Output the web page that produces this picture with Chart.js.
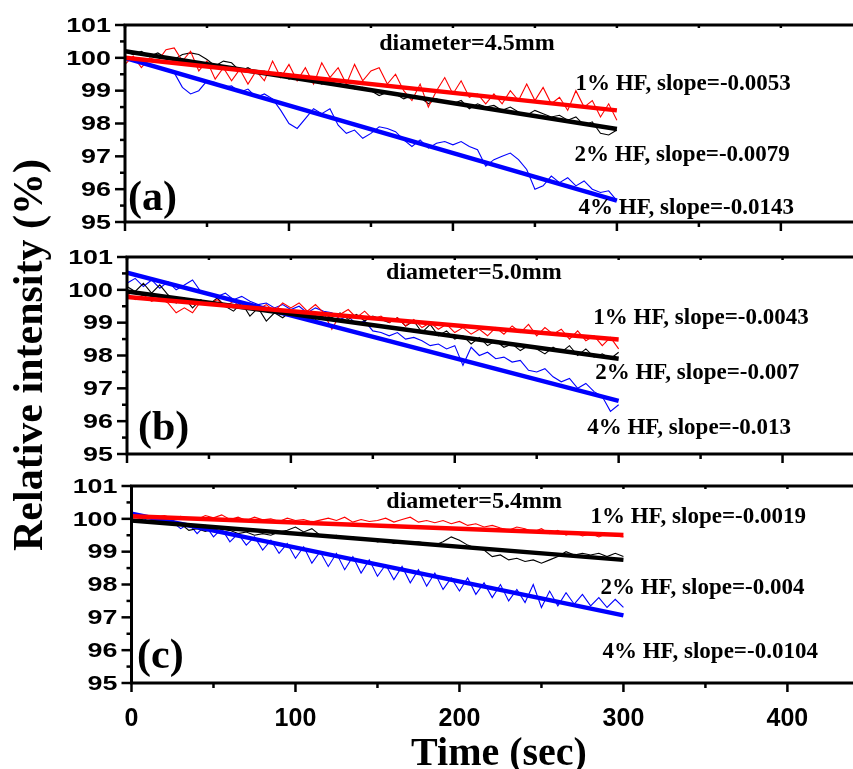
<!DOCTYPE html>
<html>
<head>
<meta charset="utf-8">
<script src="https://cdn.jsdelivr.net/npm/chart.js@4.4.1/dist/chart.umd.min.js"></script>
<style>
  html, body { margin: 0; padding: 0; background: #fff; }
  #wrap { position: relative; width: 853px; height: 769px; overflow: hidden; background: #fff; }
  canvas { position: absolute; left: 0; top: 0; }
</style>
</head>
<body>
<div id="wrap">
  <canvas id="panelA" width="853" height="769"></canvas>
  <canvas id="panelB" width="853" height="769"></canvas>
  <canvas id="panelC" width="853" height="769"></canvas>
</div>
<script>
// time axis (sec) shared by all measured curves
const timeSec = [0,5,10,15,20,25,30,35,40,45,50,55,60,65,70,75,80,85,90,95,
  100,105,110,115,120,125,130,135,140,145,150,155,160,165,170,175,180,185,190,195,
  200,205,210,215,220,225,230,235,240,245,250,255,260,265,270,275,280,285,290,295,300];
const fitTime = [0, 300];

// (a) diameter=4.5mm
const aRed = [99.8,100.05,99.7,100.0,99.9,100.25,100.3,99.9,100.2,99.6,
  99.9,99.35,99.7,99.3,99.65,99.2,99.6,99.3,99.9,99.4,
  99.8,99.3,99.7,99.2,99.85,99.4,99.7,99.2,99.8,99.3,
  99.6,99.7,99.2,99.5,99.0,98.7,99.2,98.5,99.0,99.4,
  98.9,99.3,98.8,98.9,98.6,98.9,98.6,99.0,98.7,99.2,
  98.7,99.1,98.6,98.8,98.4,99.0,98.5,98.7,98.2,98.6,
  98.1];
const aBlack = [100.2,100.1,100.2,100.05,100.15,100.0,99.95,100.1,100.15,100.1,
  99.95,99.75,99.9,99.85,99.6,99.7,99.55,99.6,99.5,99.55,
  99.35,99.45,99.3,99.35,99.2,99.3,99.15,99.2,99.05,99.1,
  99.0,98.85,98.95,98.9,98.75,98.85,98.8,98.6,98.75,98.65,
  98.6,98.7,98.45,98.6,98.5,98.55,98.4,98.5,98.35,98.25,
  98.4,98.3,98.2,98.25,98.1,98.2,97.95,98.05,97.7,97.65,
  97.8];
const aBlue = [100.0,99.95,99.85,99.8,99.7,99.6,99.55,99.1,98.9,99.0,
  99.3,99.25,99.1,99.15,98.95,99.05,98.8,98.9,98.75,98.4,
  98.0,97.85,98.15,98.45,98.3,98.45,97.95,97.7,97.8,97.55,
  97.7,97.9,97.85,97.75,97.5,97.3,97.5,97.25,97.4,97.45,
  97.35,97.45,97.3,97.2,96.7,96.9,97.0,97.1,96.9,96.6,
  96.0,96.1,96.4,96.2,96.35,96.1,96.25,96.0,95.9,95.95,
  95.65];
const aFitRed = [100.0, 98.4];
const aFitBlack = [100.2, 97.83];
const aFitBlue = [100.0, 95.65];

// (b) diameter=5.0mm
const bRed = [99.9,99.7,99.85,99.65,99.75,99.6,99.3,99.45,99.3,99.65,
  99.55,99.7,99.5,99.65,99.45,99.6,99.4,99.55,99.35,99.6,
  99.45,99.6,99.35,99.55,99.3,98.8,99.25,99.4,99.15,99.35,
  99.1,99.2,99.0,99.15,98.9,99.1,98.85,99.0,98.8,98.95,
  98.7,98.85,98.65,98.8,98.6,98.85,98.65,98.9,98.7,98.95,
  98.6,98.85,98.65,98.8,98.5,98.75,98.45,98.6,98.3,98.55,
  98.2];
const bBlack = [100.1,99.95,100.2,99.9,100.15,99.85,99.6,99.75,99.45,99.7,
  99.55,99.75,99.5,99.35,99.6,99.2,99.45,99.05,99.3,99.15,
  99.35,99.2,99.3,99.1,99.25,99.15,99.3,99.1,99.25,99.05,
  99.2,99.1,99.0,99.15,98.9,99.05,98.7,98.95,98.6,98.75,
  98.5,98.6,98.35,98.55,98.3,98.45,98.25,98.35,98.15,98.3,
  98.2,98.05,98.25,98.1,98.3,98.0,98.2,97.95,98.05,97.9,
  98.1];
const bBlue = [100.2,100.35,100.1,100.3,100.05,100.25,100.0,100.15,100.3,99.95,
  99.9,99.8,99.9,99.7,99.8,99.65,99.55,99.6,99.45,99.55,
  99.4,99.5,99.3,99.45,99.35,99.3,99.1,99.2,98.95,99.05,
  98.75,98.7,98.6,98.7,98.5,98.55,98.45,98.3,98.35,98.2,
  98.3,97.7,98.25,98.0,98.1,97.9,97.95,97.8,97.85,97.55,
  97.5,97.6,97.35,97.2,97.3,97.0,97.15,96.9,96.75,96.3,
  96.5];
const bFitRed = [99.78, 98.49];
const bFitBlack = [99.95, 97.9];
const bFitBlue = [100.52, 96.62];

// (c) diameter=5.4mm
const cRed = [100.05,100.1,100.0,100.05,100.1,100.02,100.08,100.0,99.98,100.1,
  100.03,100.12,99.98,100.05,99.95,100.05,99.97,100.0,99.92,100.02,
  99.95,99.98,99.9,99.96,100.02,99.95,100.05,99.9,99.98,99.92,
  99.95,100.02,99.9,99.98,100.05,99.9,99.95,99.88,99.95,99.85,
  99.92,99.8,99.85,99.75,99.8,99.72,99.65,99.75,99.7,99.6,
  99.7,99.55,99.65,99.5,99.6,99.48,99.55,99.45,99.55,99.48,
  99.45];
const cBlack = [99.95,100.0,99.9,99.95,99.9,99.95,99.85,99.65,99.7,99.62,
  99.7,99.6,99.65,99.55,99.6,99.5,99.55,99.5,99.6,99.65,
  99.75,99.6,99.7,99.5,99.45,99.5,99.4,99.45,99.35,99.4,
  99.3,99.35,99.25,99.3,99.28,99.3,99.25,99.2,99.3,99.45,
  99.35,99.2,99.1,99.05,98.85,98.9,98.75,98.8,98.7,98.75,
  98.65,98.75,98.85,99.0,98.9,98.95,98.9,98.95,98.85,98.95,
  98.85];
const cBlue = [100.1,100.05,99.95,100.0,99.85,99.9,99.7,99.85,99.55,99.8,
  99.45,99.7,99.3,99.55,99.2,99.45,99.05,99.35,98.95,99.25,
  98.8,99.15,98.65,99.0,98.55,98.95,98.45,98.85,98.35,98.75,
  98.25,98.6,98.15,98.55,98.05,98.45,97.95,98.35,97.85,98.2,
  97.8,98.2,97.7,98.05,97.6,98.0,97.5,97.85,97.45,98.0,
  97.3,97.8,97.35,97.75,97.4,97.7,97.35,97.6,97.3,97.55,
  97.3];
const cFitRed = [100.08, 99.51];
const cFitBlack = [99.95, 98.75];
const cFitBlue = [100.16, 97.06];

const yTicks = [95, 96, 97, 98, 99, 100, 101];
const xTickLabels = [0, 100, 200, 300, 400];

const SERIF = '"Liberation Serif", "Times New Roman", serif';
const SANS = '"Liberation Sans", Arial, sans-serif';
const RED = '#ff0000', BLACK = '#000000', BLUE = '#0000ff';

function pts(xs, ys) {
  return ys.map((v, i) => ({ x: xs[i], y: v }));
}

const framePlugin = {
  id: 'frame',
  afterDraw(chart, args, opts) {
    const { ctx, chartArea: a } = chart;
    const xs = chart.scales.x, ys = chart.scales.y;
    ctx.save();
    ctx.strokeStyle = '#000';
    ctx.lineWidth = 3;
    ctx.beginPath();
    ctx.moveTo(a.right + 10, a.top);
    ctx.lineTo(a.left, a.top);
    ctx.lineTo(a.left, a.bottom);
    ctx.lineTo(a.right + 10, a.bottom);
    ctx.stroke();

    // y ticks (major + minor), outward
    ctx.lineWidth = 2.5;
    for (let v = ys.min; v <= ys.max + 1e-9; v += 0.5) {
      const py = ys.getPixelForValue(v);
      const len = Math.abs(v - Math.round(v)) < 1e-6 ? 10 : 5;
      ctx.beginPath();
      ctx.moveTo(a.left - len, py);
      ctx.lineTo(a.left, py);
      ctx.stroke();
    }
    // x ticks (major + minor), outward at bottom, small inward at top
    for (let v = 0; v <= xs.max; v += 50) {
      const px = xs.getPixelForValue(v);
      const len = v % 100 === 0 ? 9 : 5;
      ctx.beginPath();
      ctx.moveTo(px, a.bottom);
      ctx.lineTo(px, a.bottom + len);
      ctx.stroke();
      ctx.beginPath();
      ctx.moveTo(px, a.top);
      ctx.lineTo(px, a.top + 3);
      ctx.stroke();
    }

    // y tick labels (wide bold sans like the original)
    ctx.fillStyle = '#000';
    ctx.font = 'bold 21px ' + SANS;
    ctx.textAlign = 'right';
    ctx.textBaseline = 'middle';
    yTicks.forEach(v => {
      const py = ys.getPixelForValue(v);
      ctx.save();
      ctx.translate(a.left - 14, py + 1);
      ctx.scale(1.28, 1);
      ctx.fillText(String(v), 0, 0);
      ctx.restore();
    });

    // annotations
    ctx.textAlign = 'left';
    opts.notes.forEach((n, i) => {
      ctx.font = 'bold ' + (i === 0 ? 24 : 23) + 'px ' + SERIF;
      ctx.fillText(n.text, xs.getPixelForValue(n.x), ys.getPixelForValue(n.y));
    });
    ctx.textBaseline = 'alphabetic';
    ctx.font = 'bold 42px ' + SERIF;
    ctx.fillText(opts.tag.text, xs.getPixelForValue(opts.tag.x), ys.getPixelForValue(opts.tag.y));

    if (opts.titles) {
      ctx.font = 'bold 40px ' + SERIF;
      ctx.textAlign = 'center';
      ctx.fillText('Time (sec)', 499, 765);
      ctx.save();
      ctx.translate(42, 355);
      ctx.rotate(-Math.PI / 2);
      ctx.font = 'bold 42px ' + SERIF;
      ctx.fillText('Relative intensity (%)', 0, 0);
      ctx.restore();
    }
    ctx.restore();
  }
};

function makePanel(id, cfg) {
  const dataLine = (vals, color) => ({
    data: pts(timeSec, vals), borderColor: color, borderWidth: 1.1,
    pointRadius: 0, tension: 0, fill: false, order: 1
  });
  const fitLine = (vals, color) => ({
    data: pts(fitTime, vals), borderColor: color, borderWidth: 4.5,
    pointRadius: 0, tension: 0, fill: false, order: 0
  });
  return new Chart(document.getElementById(id), {
    type: 'line',
    data: {
      datasets: [
        dataLine(cfg.red, RED), dataLine(cfg.black, BLACK), dataLine(cfg.blue, BLUE),
        fitLine(cfg.fitRed, RED), fitLine(cfg.fitBlack, BLACK), fitLine(cfg.fitBlue, BLUE)
      ]
    },
    options: {
      responsive: false,
      animation: false,
      devicePixelRatio: 1,
      events: [],
      layout: { padding: { top: cfg.top, right: 0, bottom: 0, left: 0 } },
      scales: {
        x: {
          type: 'linear', min: 0, max: cfg.xMax,
          grid: { display: false }, border: { display: false },
          ticks: {
            display: cfg.showX, stepSize: 100, includeBounds: false,
            autoSkip: false, maxRotation: 0, padding: 13, color: '#000',
            font: { family: SANS, size: 25, weight: 'bold' },
            callback: v => (xTickLabels.includes(v) ? String(v) : '')
          },
          afterFit: s => { s.height = 769 - cfg.bottom; }
        },
        y: {
          min: 95, max: 101,
          grid: { display: false }, border: { display: false },
          ticks: { display: false, stepSize: 1 },
          afterFit: s => { s.width = cfg.left; }
        }
      },
      plugins: {
        legend: { display: false },
        tooltip: { enabled: false },
        frame: { notes: cfg.notes, tag: cfg.tag, titles: cfg.titles }
      }
    },
    plugins: [framePlugin]
  });
}

makePanel('panelA', {
  top: 25, bottom: 222, left: 125, xMax: 444, showX: false,
  red: aRed, black: aBlack, blue: aBlue,
  fitRed: aFitRed, fitBlack: aFitBlack, fitBlue: aFitBlue,
  notes: [
    { text: 'diameter=4.5mm', x: 155, y: 100.42 },
    { text: '1% HF, slope=-0.0053', x: 274.7, y: 99.2 },
    { text: '2% HF, slope=-0.0079', x: 274.1, y: 97.04 },
    { text: '4% HF, slope=-0.0143', x: 276.6, y: 95.43 }
  ],
  tag: { text: '(a)', x: 1.8, y: 95.37 }
});

makePanel('panelB', {
  top: 257, bottom: 454, left: 127, xMax: 443, showX: false,
  red: bRed, black: bBlack, blue: bBlue,
  fitRed: bFitRed, fitBlack: bFitBlack, fitBlue: bFitBlue,
  notes: [
    { text: 'diameter=5.0mm', x: 158.1, y: 100.51 },
    { text: '1% HF, slope=-0.0043', x: 284.5, y: 99.14 },
    { text: '2% HF, slope=-0.007', x: 285.7, y: 97.47 },
    { text: '4% HF, slope=-0.013', x: 280.8, y: 95.79 }
  ],
  tag: { text: '(b)', x: 6.7, y: 95.43 }
});

makePanel('panelC', {
  top: 486, bottom: 683, left: 131.5, xMax: 440, showX: true,
  red: cRed, black: cBlack, blue: cBlue,
  fitRed: cFitRed, fitBlack: cFitBlack, fitBlue: cFitBlue,
  notes: [
    { text: 'diameter=5.4mm', x: 155.4, y: 100.51 },
    { text: '1% HF, slope=-0.0019', x: 279.9, y: 100.06 },
    { text: '2% HF, slope=-0.004', x: 286, y: 97.89 },
    { text: '4% HF, slope=-0.0104', x: 287.2, y: 95.94 }
  ],
  tag: { text: '(c)', x: 3.4, y: 95.46 },
  titles: true
});
</script>
</body>
</html>
